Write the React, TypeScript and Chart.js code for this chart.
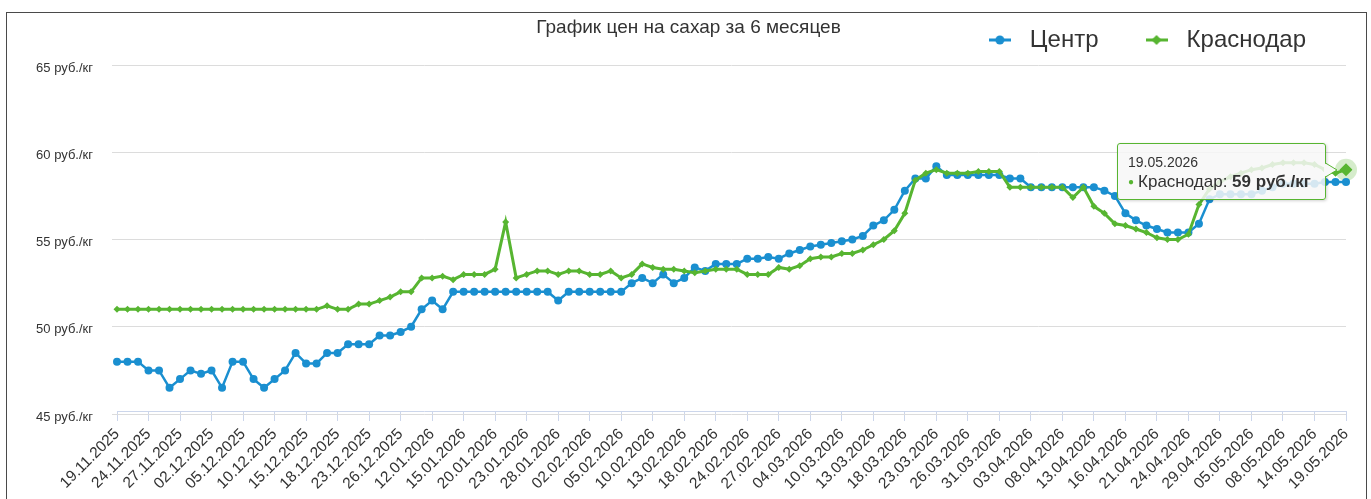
import React, { useEffect, useRef } from "react";
import { Chart, registerables } from "chart.js";

Chart.register(...registerables);

// ---- data ----
const dates: string[] = [
  "19.11.2025", "20.11.2025", "21.11.2025", "24.11.2025", "25.11.2025", "26.11.2025", "27.11.2025", "28.11.2025", "01.12.2025", "02.12.2025",
  "03.12.2025", "04.12.2025", "05.12.2025", "08.12.2025", "09.12.2025", "10.12.2025", "11.12.2025", "12.12.2025", "15.12.2025", "16.12.2025",
  "17.12.2025", "18.12.2025", "19.12.2025", "22.12.2025", "23.12.2025", "24.12.2025", "25.12.2025", "26.12.2025", "29.12.2025", "30.12.2025",
  "12.01.2026", "13.01.2026", "14.01.2026", "15.01.2026", "16.01.2026", "19.01.2026", "20.01.2026", "21.01.2026", "22.01.2026", "23.01.2026",
  "26.01.2026", "27.01.2026", "28.01.2026", "29.01.2026", "30.01.2026", "02.02.2026", "03.02.2026", "04.02.2026", "05.02.2026", "06.02.2026",
  "09.02.2026", "10.02.2026", "11.02.2026", "12.02.2026", "13.02.2026", "16.02.2026", "17.02.2026", "18.02.2026", "19.02.2026", "20.02.2026",
  "24.02.2026", "25.02.2026", "26.02.2026", "27.02.2026", "02.03.2026", "03.03.2026", "04.03.2026", "05.03.2026", "06.03.2026", "10.03.2026",
  "11.03.2026", "12.03.2026", "13.03.2026", "16.03.2026", "17.03.2026", "18.03.2026", "19.03.2026", "20.03.2026", "23.03.2026", "24.03.2026",
  "25.03.2026", "26.03.2026", "27.03.2026", "30.03.2026", "31.03.2026", "01.04.2026", "02.04.2026", "03.04.2026", "06.04.2026", "07.04.2026",
  "08.04.2026", "09.04.2026", "10.04.2026", "13.04.2026", "14.04.2026", "15.04.2026", "16.04.2026", "17.04.2026", "20.04.2026", "21.04.2026",
  "22.04.2026", "23.04.2026", "24.04.2026", "27.04.2026", "28.04.2026", "29.04.2026", "30.04.2026", "04.05.2026", "05.05.2026", "06.05.2026",
  "07.05.2026", "08.05.2026", "12.05.2026", "13.05.2026", "14.05.2026", "15.05.2026", "18.05.2026", "19.05.2026",
];

const centerPrices: number[] = [
  48, 48, 48, 47.5, 47.5, 46.5, 47, 47.5, 47.3, 47.5,
  46.5, 48, 48, 47, 46.5, 47, 47.5, 48.5, 47.9, 47.9,
  48.5, 48.5, 49, 49, 49, 49.5, 49.5, 49.7, 50, 51,
  51.5, 51, 52, 52, 52, 52, 52, 52, 52, 52,
  52, 52, 51.5, 52, 52, 52, 52, 52, 52, 52.5,
  52.8, 52.5, 53, 52.5, 52.8, 53.4, 53.2, 53.6, 53.6, 53.6,
  53.9, 53.9, 54, 53.9, 54.2, 54.4, 54.6, 54.7, 54.8, 54.9,
  55, 55.2, 55.8, 56.1, 56.7, 57.8, 58.5, 58.5, 59.2, 58.7,
  58.7, 58.7, 58.7, 58.7, 58.7, 58.5, 58.5, 58, 58, 58,
  58, 58, 58, 58, 57.8, 57.5, 56.5, 56.1, 55.8, 55.6,
  55.4, 55.4, 55.4, 55.9, 57.3, 57.6, 57.6, 57.6, 57.6, 57.8,
  58, 58.2, 58.2, 58.2, 58.2, 58.3, 58.3, 58.3,
];

const krasnodarPrices: number[] = [
  51, 51, 51, 51, 51, 51, 51, 51, 51, 51,
  51, 51, 51, 51, 51, 51, 51, 51, 51, 51,
  51.2, 51, 51, 51.3, 51.3, 51.5, 51.7, 52, 52, 52.8,
  52.8, 52.9, 52.7, 53, 53, 53, 53.3, 56, 52.8, 53,
  53.2, 53.2, 53, 53.2, 53.2, 53, 53, 53.2, 52.8, 53,
  53.6, 53.4, 53.3, 53.3, 53.2, 53.1, 53.2, 53.3, 53.3, 53.3,
  53, 53, 53, 53.4, 53.3, 53.5, 53.9, 54, 54, 54.2,
  54.2, 54.4, 54.7, 55, 55.5, 56.5, 58.4, 58.8, 59, 58.8,
  58.8, 58.8, 58.9, 58.9, 58.9, 58, 58, 58, 58, 58,
  58, 57.4, 58, 56.9, 56.5, 55.9, 55.8, 55.6, 55.4, 55.1,
  55, 55, 55.3, 57, 57.9, 58.3, 58.6, 58.8, 59, 59.1,
  59.3, 59.4, 59.4, 59.4, 59.3, 59, 58.8, 59,
];

const chartTitle = "График цен на сахар за 6 месяцев";
const seriesNames = ["Центр", "Краснодар"];
const unit = "руб./кг";
const yMin = 45;
const yMax = 65;
const yStep = 5;
const labelEvery = 3;
const highlightedSeries = 1;

// ---- styles ----
const BLUE = "#1a8fd0";
const GREEN = "#57b531";
const FONT = '"Liberation Sans", Arial, sans-serif';
const TEXT = "#333333";

function makeLegendSymbol(color: string, marker: "circle" | "diamond"): HTMLCanvasElement {
  const c = document.createElement("canvas");
  c.width = 22;
  c.height = 12;
  const g = c.getContext("2d") as CanvasRenderingContext2D;
  g.strokeStyle = color;
  g.lineWidth = 3;
  g.beginPath();
  g.moveTo(0, 6);
  g.lineTo(22, 6);
  g.stroke();
  g.fillStyle = color;
  g.beginPath();
  if (marker === "circle") {
    g.arc(11, 6, 4.5, 0, Math.PI * 2);
  } else {
    g.moveTo(11, 1);
    g.lineTo(16, 6);
    g.lineTo(11, 11);
    g.lineTo(6, 6);
    g.closePath();
  }
  g.fill();
  return c;
}

const haloPlugin = {
  id: "halo",
  beforeDatasetsDraw(chart: any) {
    const ctx = chart.ctx;
    chart.getActiveElements().forEach((a: any) => {
      const color = chart.data.datasets[a.datasetIndex].borderColor;
      ctx.save();
      ctx.globalAlpha = 0.25;
      ctx.fillStyle = color;
      ctx.beginPath();
      ctx.arc(a.element.x, a.element.y, 11, 0, Math.PI * 2);
      ctx.fill();
      ctx.restore();
    });
  },
};

export default function App() {
  const canvasRef = useRef<HTMLCanvasElement>(null);
  const tipRef = useRef<HTMLDivElement>(null);

  useEffect(() => {
    const prevMargin = document.body.style.margin;
    document.body.style.margin = "0";
    const canvas = canvasRef.current as HTMLCanvasElement;
    const symbols = [makeLegendSymbol(BLUE, "circle"), makeLegendSymbol(GREEN, "diamond")];

    const external = ({ tooltip }: any) => {
      const el = tipRef.current;
      if (!el) return;
      if (!tooltip || tooltip.opacity === 0 || !tooltip.dataPoints || !tooltip.dataPoints.length) {
        el.style.display = "none";
        return;
      }
      const dp = tooltip.dataPoints[0];
      const color = dp.dataset.borderColor as string;
      el.innerHTML = "";
      const head = document.createElement("div");
      head.textContent = tooltip.title[0];
      head.style.fontSize = "14px";
      head.style.lineHeight = "18px";
      const body = document.createElement("div");
      body.style.fontSize = "17px";
      body.style.lineHeight = "22px";
      const dot = document.createElement("span");
      dot.textContent = "●";
      dot.style.color = color;
      dot.style.fontSize = "10px";
      dot.style.verticalAlign = "2px";
      dot.style.marginRight = "4px";
      const name = document.createTextNode(`${dp.dataset.label}: `);
      const val = document.createElement("b");
      val.textContent = `${dp.formattedValue} ${unit}`;
      body.append(dot, name, val);
      el.append(head, body);

      el.style.display = "block";
      el.style.borderColor = color;
      const w = el.offsetWidth;
      const boxLeft = tooltip.caretX - 20 - w;
      const boxTop = tooltip.caretY - 27;
      el.style.left = `${boxLeft}px`;
      el.style.top = `${boxTop}px`;

      // callout pointing at the hovered point
      const ns = "http://www.w3.org/2000/svg";
      const svg = document.createElementNS(ns, "svg");
      const cy = tooltip.caretY - boxTop - 1;
      svg.setAttribute("width", "16");
      svg.setAttribute("height", "18");
      svg.style.position = "absolute";
      svg.style.left = `${w - 3}px`;
      svg.style.top = `${cy - 9}px`;
      svg.style.overflow = "visible";
      const poly = document.createElementNS(ns, "polygon");
      poly.setAttribute("points", "0,2 13,9 0,16");
      poly.setAttribute("fill", "rgb(248,248,248)");
      const line = document.createElementNS(ns, "polyline");
      line.setAttribute("points", "1.5,2 13,9 1.5,16");
      line.setAttribute("fill", "none");
      line.setAttribute("stroke", color);
      line.setAttribute("stroke-width", "1");
      svg.append(poly, line);
      el.append(svg);
    };

    const chart = new Chart(canvas, {
      type: "line",
      data: {
        labels: dates,
        datasets: [
          {
            label: seriesNames[0],
            data: centerPrices,
            borderColor: BLUE,
            backgroundColor: BLUE,
            borderWidth: 2.5,
            pointStyle: "circle",
            pointRadius: 4,
            pointBorderWidth: 0,
            pointBackgroundColor: BLUE,
            pointHoverRadius: 5,
            tension: 0,
            order: 1,
          },
          {
            label: seriesNames[1],
            data: krasnodarPrices,
            borderColor: GREEN,
            backgroundColor: GREEN,
            borderWidth: 3,
            pointStyle: "rectRot",
            pointRadius: 3.5,
            pointBorderWidth: 0,
            pointBackgroundColor: GREEN,
            pointHoverRadius: 6.5,
            pointHoverBorderWidth: 0,
            pointHoverBackgroundColor: GREEN,
            tension: 0,
            order: 0,
          },
        ],
      },
      options: {
        responsive: false,
        animation: false,
        devicePixelRatio: 1,
        events: [],
        layout: { padding: { left: 24, right: 20, top: -22, bottom: 0 } },
        plugins: {
          title: {
            display: true,
            text: chartTitle,
            color: TEXT,
            font: { family: FONT, size: 19, weight: "normal" },
            padding: { top: 25.6, bottom: -51.4 },
          },
          legend: {
            position: "top",
            align: "end",
            labels: {
              usePointStyle: true,
              pointStyleWidth: 36,
              padding: 40,
              color: TEXT,
              font: { family: FONT, size: 24 },
              generateLabels: (c: any) => {
                const items = (Chart.defaults.plugins.legend.labels as any).generateLabels(c);
                items.sort((a: any, b: any) => a.datasetIndex - b.datasetIndex);
                items.forEach((it: any) => {
                  it.pointStyle = symbols[it.datasetIndex];
                });
                return items;
              },
            },
          },
          tooltip: { enabled: false, external },
        },
        scales: {
          x: {
            type: "category",
            offset: false,
            grid: {
              drawOnChartArea: false,
              drawTicks: true,
              tickLength: 10,
              color: "#ccd6eb",
              tickColor: (ctx: any) => (ctx.index % labelEvery === 0 ? "#ccd6eb" : "rgba(0,0,0,0)"),
            },
            border: { display: true, color: "#ccd6eb", width: 1 },
            ticks: {
              autoSkip: false,
              minRotation: 45,
              maxRotation: 45,
              padding: 4,
              color: TEXT,
              font: { family: FONT, size: 15.5 },
              callback: (_v: any, i: number) => (i % labelEvery === 0 ? dates[i] : ""),
            },
            afterFit: (s: any) => {
              s.height = 85;
            },
          },
          y: {
            min: yMin,
            max: yMax,
            grid: { color: "#dcdcdc", drawTicks: true, tickLength: 5, tickColor: "#dcdcdc" },
            border: { display: false },
            ticks: {
              stepSize: yStep,
              crossAlign: "near",
              padding: 19,
              labelOffset: 3,
              color: TEXT,
              font: { family: FONT, size: 13 },
              callback: (v: any) => `${v} ${unit}`,
            },
            afterFit: (s: any) => {
              s.width = 86;
            },
          },
        },
      } as any,
      plugins: [haloPlugin],
    });

    const active = [{ datasetIndex: highlightedSeries, index: dates.length - 1 }];
    chart.setActiveElements(active);
    (chart as any).tooltip?.setActiveElements(active, { x: 0, y: 0 });
    chart.update();

    return () => {
      chart.destroy();
      document.body.style.margin = prevMargin;
    };
  }, []);

  return (
    <div
      style={{
        position: "fixed",
        left: 0,
        top: 0,
        width: 1371,
        height: 499,
        overflow: "hidden",
        background: "#ffffff",
      }}
    >
      <div
        style={{
          position: "absolute",
          left: 6,
          top: 12,
          width: 1359,
          height: 486,
          border: "1px solid #4a4a4a",
        }}
      >
        <canvas ref={canvasRef} width={1359} height={486} style={{ display: "block", width: 1359, height: 486 }} />
        <div
          ref={tipRef}
          style={{
            display: "none",
            position: "absolute",
            background: "rgba(247,247,247,0.85)",
            border: "1px solid #57b531",
            borderRadius: 3,
            boxShadow: "1px 1px 3px rgba(0,0,0,0.18)",
            padding: "9px 14px 6px 10px",
            fontFamily: FONT,
            color: TEXT,
            whiteSpace: "nowrap",
            pointerEvents: "none",
          }}
        />
      </div>
    </div>
  );
}
